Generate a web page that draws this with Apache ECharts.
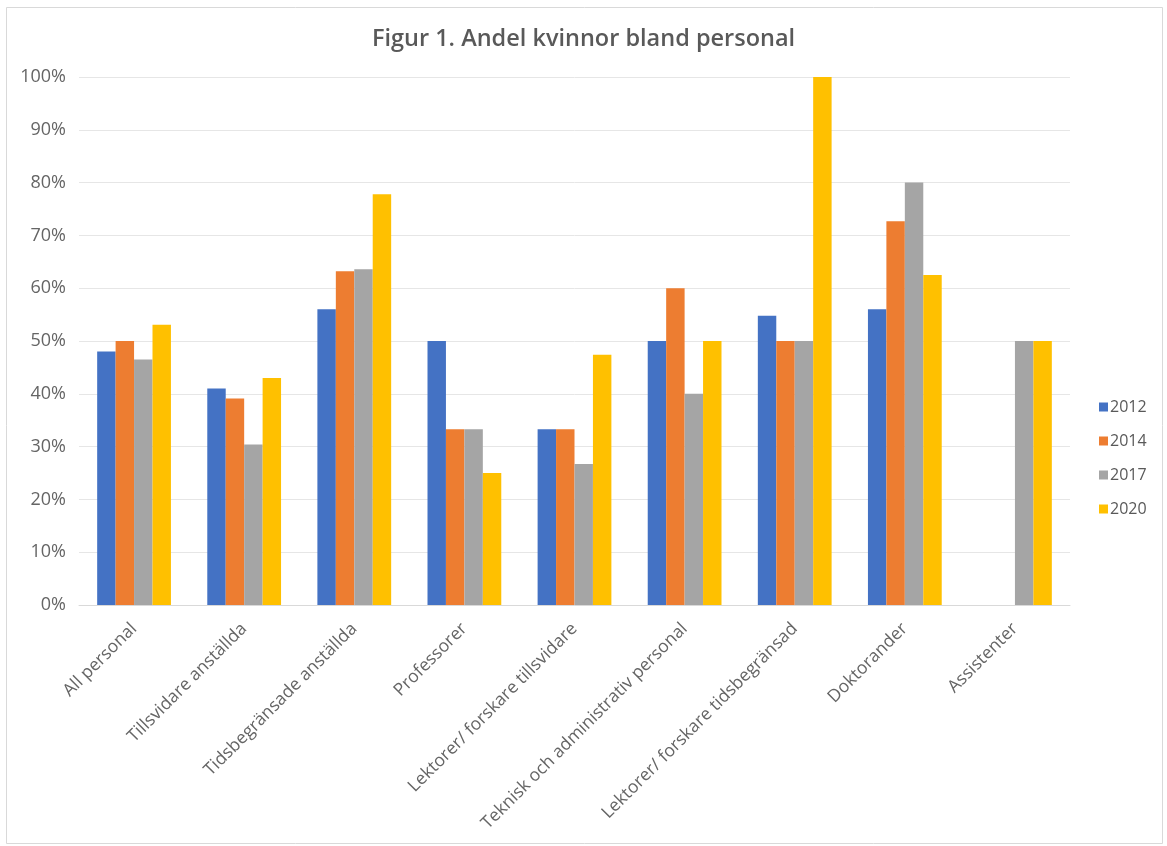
<!DOCTYPE html>
<html>
<head>
<meta charset="utf-8">
<script src="https://cdn.jsdelivr.net/npm/echarts@6/dist/echarts.min.js"></script>
<style>
  html, body { margin: 0; padding: 0; background: #fff; }
  #chart { width: 1167px; height: 846px; }
</style>
</head>
<body>
<div id="chart"></div>
<script>
// Share of women among staff, by staff group and year (percent)
const categories = [
  'All personal',
  'Tillsvidare anställda',
  'Tidsbegränsade anställda',
  'Professorer',
  'Lektorer/ forskare tillsvidare',
  'Teknisk och administrativ personal',
  'Lektorer/ forskare tidsbegränsad',
  'Doktorander',
  'Assistenter'
];
const years = ['2012', '2014', '2017', '2020'];
const values2012 = [48.0, 41.0, 56.0, 50.0, 33.3, 50.0, 54.8, 56.0, null];
const values2014 = [50.0, 39.1, 63.2, 33.3, 33.3, 60.0, 50.0, 72.7, null];
const values2017 = [46.5, 30.4, 63.6, 33.3, 26.7, 40.0, 50.0, 80.0, 50.0];
const values2020 = [53.1, 43.0, 77.8, 25.0, 47.4, 50.0, 100.0, 62.5, 50.0];
const yTicks = [0, 10, 20, 30, 40, 50, 60, 70, 80, 90, 100];

const colors = ['#4472C4', '#ED7D31', '#A5A5A5', '#FFC000'];
const seriesValues = [values2012, values2014, values2017, values2020];
const textColor = '#595959';
const fontFamily = '"Open Sans", Lato, sans-serif';

const chart = echarts.init(document.getElementById('chart'), null, { renderer: 'canvas' });

chart.setOption({
  animation: false,
  backgroundColor: '#ffffff',
  color: colors,
  textStyle: { fontFamily: fontFamily },
  title: {
    text: 'Figur 1. Andel kvinnor bland personal',
    left: 'center',
    top: 22,
    textStyle: { fontFamily: fontFamily, fontSize: 23.5, fontWeight: 600, color: textColor }
  },
  graphic: [{
    type: 'rect',
    shape: { x: 6.5, y: 7.5, width: 1156, height: 836 },
    style: { fill: 'none', stroke: '#d9d9d9', lineWidth: 1 },
    silent: true,
    z: -1
  }],
  legend: {
    orient: 'vertical',
    left: 1094,
    top: 394,
    itemWidth: 9,
    itemHeight: 9,
    itemGap: 18,
    icon: 'rect',
    data: years,
    textStyle: { fontFamily: fontFamily, fontSize: 16, color: textColor, padding: [0, 0, 0, -3] }
  },
  grid: { left: 79, right: 97, top: 77, bottom: 241, containLabel: false },
  xAxis: {
    type: 'category',
    data: categories,
    axisLine: { show: true, lineStyle: { color: '#d9d9d9', width: 1 } },
    axisTick: { show: false },
    axisLabel: {
      rotate: 45,
      interval: 0,
      margin: 21,
      fontFamily: fontFamily,
      fontSize: 17.5,
      color: '#656565'
    }
  },
  yAxis: {
    type: 'value',
    min: yTicks[0],
    max: yTicks[yTicks.length - 1],
    interval: 10,
    axisLine: { show: false },
    axisTick: { show: false },
    splitLine: { lineStyle: { color: '#e6e6e6', width: 1 } },
    axisLabel: {
      margin: 13,
      fontFamily: fontFamily,
      fontSize: 18,
      color: '#656565',
      formatter: v => v + '%'
    }
  },
  series: years.map((y, i) => ({
    name: y,
    type: 'bar',
    data: seriesValues[i],
    barGap: '0%',
    barCategoryGap: '33%',
    itemStyle: { color: colors[i] }
  }))
});
</script>
</body>
</html>
